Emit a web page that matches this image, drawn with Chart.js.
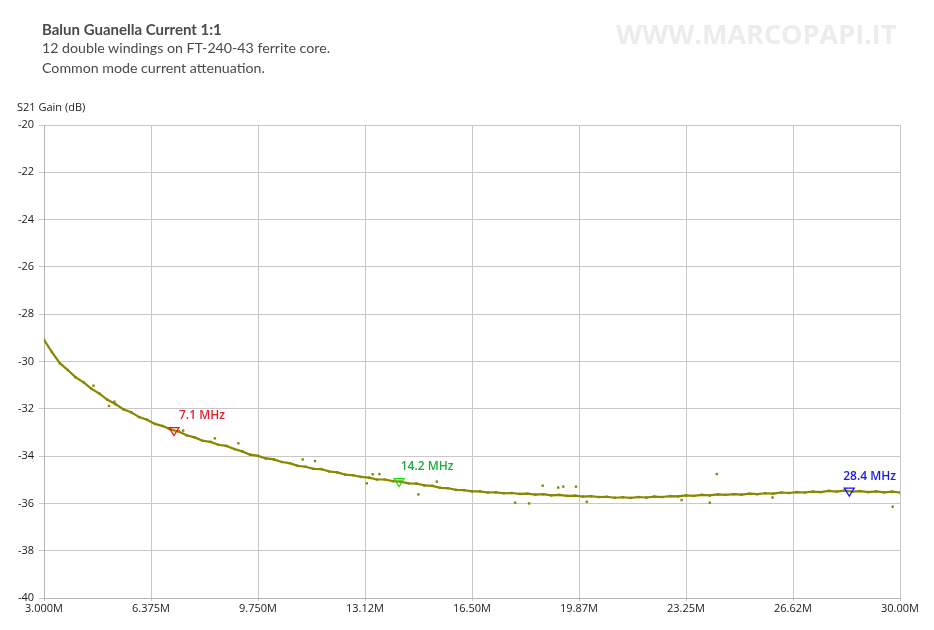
<!DOCTYPE html>
<html>
<head>
<meta charset="utf-8">
<script src="https://cdn.jsdelivr.net/npm/chart.js@4.4.1/dist/chart.umd.min.js"></script>
<style>
  body { margin: 0; background: #fff; }
  #wrap { position: relative; width: 934px; height: 630px; overflow: hidden; }
  #wrap canvas { position: absolute; left: 0; top: 0; }
  .txt { position: absolute; white-space: nowrap; }
  #title { left: 42px; top: 20px; font: bold 15px Lato, sans-serif; color: #4a4a4a; }
  .sub { left: 42px; font: 14.2px Lato, sans-serif; color: #4a4a4a; }
  #watermark { left: 616px; top: 15px; font: bold 27px "Open Sans", sans-serif; color: #ececec; }
  #ytitle { left: 17px; top: 99px; font: 11px "Open Sans", sans-serif; color: #222; }
</style>
</head>
<body>
<div id="wrap">
  <canvas id="chart" width="934" height="630"></canvas>
  <div class="txt" id="watermark">WWW.MARCOPAPI.IT</div>
  <div class="txt" id="title">Balun Guanella Current 1:1</div>
  <div class="txt sub" style="top:39px">12 double windings on FT-240-43 ferrite core.</div>
  <div class="txt sub" style="top:59px">Common mode current attenuation.</div>
  <div class="txt" id="ytitle">S21 Gain (dB)</div>
</div>
<script>
// sweep readings, MHz / dB
const freqMHz = [
  3.00, 3.25, 3.50, 3.75, 4.00, 4.25, 4.50, 4.75, 5.00, 5.25, 5.50, 5.75,
  6.00, 6.25, 6.50, 6.75, 7.00, 7.25, 7.50, 7.75, 8.00, 8.25, 8.50, 8.75,
  9.00, 9.25, 9.50, 9.75, 10.00, 10.25, 10.50, 10.75, 11.00, 11.25, 11.50, 11.75,
  12.00, 12.25, 12.50, 12.75, 13.00, 13.25, 13.50, 13.75, 14.00, 14.25, 14.50, 14.75,
  15.00, 15.25, 15.50, 15.75, 16.00, 16.25, 16.50, 16.75, 17.00, 17.25, 17.50, 17.75,
  18.00, 18.25, 18.50, 18.75, 19.00, 19.25, 19.50, 19.75, 20.00, 20.25, 20.50, 20.75,
  21.00, 21.25, 21.50, 21.75, 22.00, 22.25, 22.50, 22.75, 23.00, 23.25, 23.50, 23.75,
  24.00, 24.25, 24.50, 24.75, 25.00, 25.25, 25.50, 25.75, 26.00, 26.25, 26.50, 26.75,
  27.00, 27.25, 27.50, 27.75, 28.00, 28.25, 28.50, 28.75, 29.00, 29.25, 29.50, 29.75,
  30.00
];
const gainDb = [
  -29.08, -29.60, -30.07, -30.36, -30.67, -30.88, -31.16, -31.36, -31.62, -31.80, -32.02, -32.15,
  -32.35, -32.46, -32.64, -32.73, -32.88, -32.96, -33.12, -33.21, -33.35, -33.40, -33.52, -33.57,
  -33.70, -33.80, -33.94, -33.99, -34.10, -34.14, -34.25, -34.30, -34.41, -34.45, -34.54, -34.55,
  -34.65, -34.69, -34.78, -34.81, -34.88, -34.91, -34.99, -34.99, -35.06, -35.08, -35.15, -35.16,
  -35.24, -35.26, -35.34, -35.36, -35.43, -35.44, -35.49, -35.49, -35.54, -35.53, -35.57, -35.56,
  -35.60, -35.59, -35.63, -35.61, -35.66, -35.64, -35.68, -35.67, -35.71, -35.69, -35.73, -35.72,
  -35.76, -35.74, -35.77, -35.73, -35.75, -35.71, -35.73, -35.69, -35.70, -35.66, -35.68, -35.64,
  -35.66, -35.62, -35.64, -35.61, -35.63, -35.59, -35.61, -35.57, -35.59, -35.54, -35.56, -35.52,
  -35.54, -35.50, -35.52, -35.47, -35.50, -35.46, -35.50, -35.48, -35.52, -35.49, -35.53, -35.50,
  -35.54
];

// stray samples off the main trace
const strayFreq = [4.56, 5.05, 5.22, 7.39, 8.39, 9.13, 11.16, 11.55, 13.18, 13.37, 13.58,
  14.81, 15.39, 17.86, 18.30, 18.73, 19.22, 19.38, 19.78, 20.12, 23.11, 24.00, 24.22, 25.98, 29.77];
const strayDb = [-31.02, -31.88, -31.70, -32.92, -33.25, -33.46, -34.14, -34.21, -35.15, -34.77, -34.76,
  -35.62, -35.08, -35.97, -36.00, -35.25, -35.33, -35.29, -35.29, -35.93, -35.86, -35.97, -34.76, -35.75, -36.14];

const markerFreq = [7.1, 14.2, 28.4];
const markerDb = [-32.92, -35.08, -35.48];
const markerLabels = ["7.1 MHz", "14.2 MHz", "28.4 MHz"];
const markerColors = ["#ff1010", "#10e010", "#1010ff"];
const markerTextColors = ["#e8202a", "#1faa3a", "#1a1ae6"];

const xTickValues = [3, 6.375, 9.75, 13.125, 16.5, 19.875, 23.25, 26.625, 30];
const xTickLabels = ["3.000M", "6.375M", "9.750M", "13.12M", "16.50M", "19.87M", "23.25M", "26.62M", "30.00M"];

const olive = "#878700";

const markerPlugin = {
  id: "markers",
  afterDatasetsDraw(chart) {
    const ctx = chart.ctx;
    const xs = chart.scales.x, ys = chart.scales.y;
    ctx.save();
    markerFreq.forEach((f, i) => {
      const px = xs.getPixelForValue(f);
      const py = ys.getPixelForValue(markerDb[i]);
      ctx.beginPath();
      ctx.moveTo(px - 5, py - 3);
      ctx.lineTo(px + 5, py - 3);
      ctx.lineTo(px, py + 5);
      ctx.closePath();
      ctx.strokeStyle = markerColors[i];
      ctx.lineWidth = 1.2;
      ctx.stroke();
      ctx.font = "600 12px 'Open Sans', sans-serif";
      ctx.fillStyle = markerTextColors[i];
      ctx.textAlign = "center";
      ctx.textBaseline = "middle";
      const w = ctx.measureText(markerLabels[i]).width;
      let cx = px + 28;
      if (cx + w / 2 > chart.chartArea.right - 4) cx = chart.chartArea.right - 4 - w / 2;
      ctx.fillText(markerLabels[i], cx, py - 15);
    });
    ctx.restore();
  }
};

new Chart(document.getElementById("chart").getContext("2d"), {
  type: "line",
  data: {
    datasets: [{
      label: "S21",
      data: freqMHz.map((f, i) => ({ x: f, y: gainDb[i] })),
      borderColor: olive,
      backgroundColor: olive,
      borderWidth: 2.2,
      pointStyle: "rect",
      pointRadius: 1.7,
      pointBorderWidth: 0,
      tension: 0
    }, {
      label: "stray",
      data: strayFreq.map((f, i) => ({ x: f, y: strayDb[i] })),
      showLine: false,
      backgroundColor: olive,
      borderColor: olive,
      pointStyle: "rect",
      pointRadius: 1.7,
      pointBorderWidth: 0
    }]
  },
  options: {
    responsive: false,
    animation: false,
    layout: { padding: { left: 0, top: 125, right: 34, bottom: 8 } },
    plugins: { legend: { display: false }, tooltip: { enabled: false } },
    scales: {
      x: {
        type: "linear",
        min: 3,
        max: 30,
        afterBuildTicks(scale) { scale.ticks = xTickValues.map(v => ({ value: v })); },
        afterFit(scale) { scale.height = 24; },
        grid: { color: "#c8c8c8", tickLength: 3, lineWidth: 1 },
        border: { color: "#b4b4b4" },
        ticks: {
          color: "#1a1a1a",
          font: { family: "'Open Sans', sans-serif", size: 11 },
          padding: 1,
          maxRotation: 0,
          autoSkip: false,
          callback: (v) => {
            const i = xTickValues.findIndex(t => Math.abs(t - v) < 1e-6);
            return i >= 0 ? xTickLabels[i] : "";
          }
        }
      },
      y: {
        min: -40,
        max: -20,
        afterFit(scale) { scale.width = 44; },
        grid: { color: "#c8c8c8", tickLength: 5, lineWidth: 1 },
        border: { color: "#b4b4b4" },
        ticks: {
          stepSize: 2,
          color: "#1a1a1a",
          font: { family: "'Open Sans', sans-serif", size: 11 },
          padding: 5
        }
      }
    }
  },
  plugins: [markerPlugin]
});
</script>
</body>
</html>
